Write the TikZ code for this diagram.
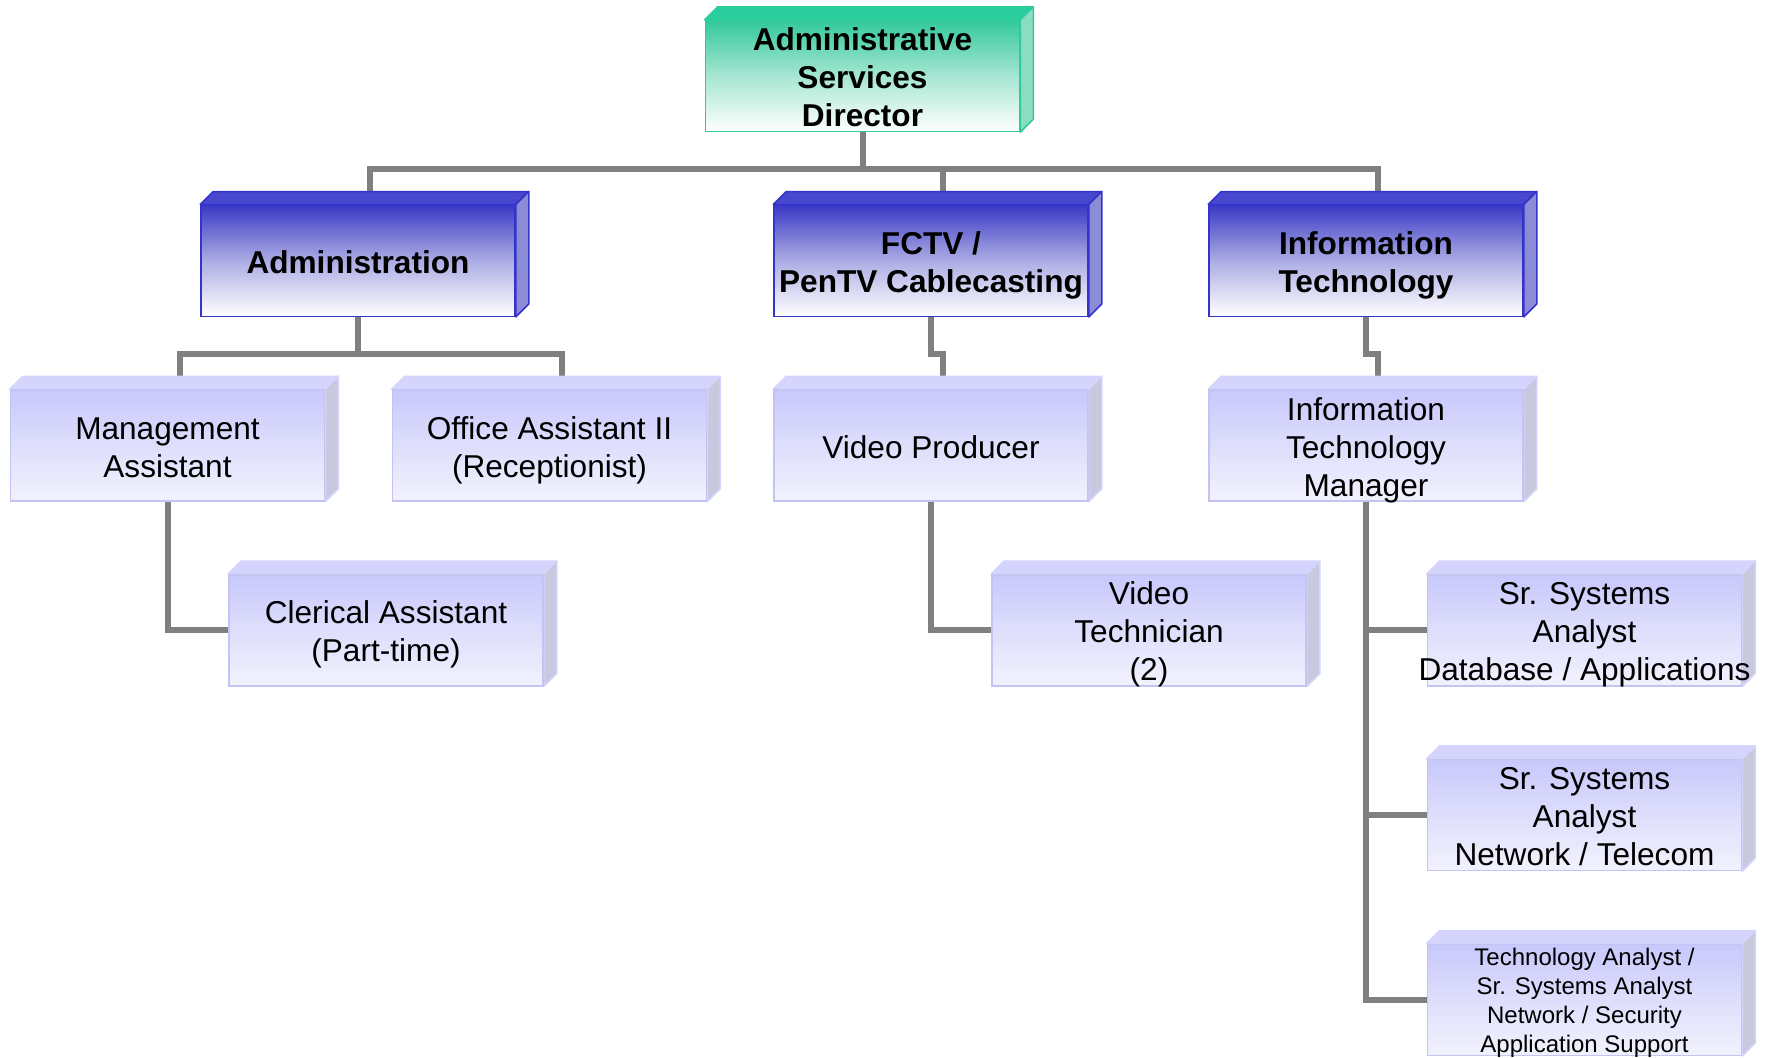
\documentclass[tikz,border=0pt]{standalone}
\usepackage{fontspec}
\setmainfont{Liberation Sans}
\pgfdeclarelayer{bg}
\pgfdeclarelayer{mid}
\pgfsetlayers{bg,mid,main}
\definecolor{grnB}{HTML}{2CCC9C}
\definecolor{grnT}{HTML}{33C99B}
\definecolor{grnM}{HTML}{A6E6D2}
\definecolor{grnTop}{HTML}{2ACE9C}
\definecolor{grnSide}{HTML}{8CDCC2}
\definecolor{bluB}{HTML}{3434CC}
\definecolor{bluT}{HTML}{3A3AC6}
\definecolor{bluM}{HTML}{ACACE4}
\definecolor{bluTop}{HTML}{4848CE}
\definecolor{bluSide}{HTML}{8C8CD6}
\definecolor{litB}{HTML}{C4C4F2}
\definecolor{litT}{HTML}{C8C8FC}
\definecolor{litM}{HTML}{DEDEFC}
\definecolor{litTop}{HTML}{D4D4FC}
\definecolor{litSide}{HTML}{C8C8DE}
\definecolor{connGray}{HTML}{808080}
\newcommand{\St}{\rule{0pt}{16pt}}
\newcommand{\Sb}{\rule[-3.4pt]{0pt}{3.4pt}}
\newcommand{\Ss}{\rule{0pt}{12.2pt}}
\newcommand{\Sd}{\rule[-2.6pt]{0pt}{2.6pt}}
\tikzset{
  base/.style={draw, line width=0.75pt, minimum width=157pt, minimum height=55.5pt,
    inner xsep=0pt, inner ysep=-3pt, align=center},
  topbox/.style={base, font=\fontsize{15.8}{19}\selectfont\bfseries, draw=grnB,
    top color=grnT, bottom color=white, middle color=grnM},
  bluebox/.style={base, font=\fontsize{15.8}{19}\selectfont\bfseries, draw=bluB,
    top color=bluT, bottom color=white, middle color=bluM},
  litebox/.style={base, font=\fontsize{15.8}{19}\selectfont, draw=litB,
    top color=litT, bottom color=white!60!litM, middle color=litM},
  smallbox/.style={litebox, font=\fontsize{12}{14.5}\selectfont},
  conn/.style={line width=3pt, draw=connGray},
}
\newcommand{\boxfaces}[4]{%
  \filldraw[fill=#2, draw=#4, line width=0.75pt, line join=round] (#1.north west) -- ([xshift=6.5pt,yshift=6.5pt]#1.north west)
    -- ([xshift=6.5pt,yshift=6.5pt]#1.north east) -- (#1.north east) -- cycle;
  \filldraw[fill=#3, draw=#4, line width=0.75pt, line join=round] (#1.north east) -- ([xshift=6.5pt,yshift=6.5pt]#1.north east)
    -- ([xshift=6.5pt,yshift=6.5pt]#1.south east) -- (#1.south east) -- cycle;
}
\begin{document}
\begin{tikzpicture}[x=0.5pt,y=-0.5pt]
\useasboundingbox (0,0) rectangle (1769,1057);
% boxes
\node[topbox] (dir) at (862.5,76) {\St Administrative\\Services\\Director\Sb};
\node[bluebox] (adm) at (358,260.75) {\St Administration\Sb};
\node[bluebox] (fctv) at (931,260.75) {\St FCTV /\\PenTV Cablecasting\Sb};
\node[bluebox] (it) at (1366,260.75) {\St Information\\Technology\Sb};
\node[litebox] (mgmt) at (167.5,445.5) {\St Management\\Assistant\Sb};
\node[litebox] (off) at (549.5,445.5) {\St Office Assistant II\\(Receptionist)\Sb};
\node[litebox] (vp) at (931,445.5) {\St Video Producer\Sb};
\node[litebox] (itm) at (1366,445.5) {\St Information\\Technology\\Manager\Sb};
\node[litebox] (cler) at (386,630.25) {\St Clerical Assistant\\(Part-time)\Sb};
\node[litebox] (vt) at (1149,630.25) {\St Video\\Technician\\(2)\Sb};
\node[litebox] (sr1) at (1584.5,630.25) {\St Sr. Systems\\Analyst\\\makebox[150pt][c]{Database / Applications}\Sb};
\node[litebox] (sr2) at (1584.5,815) {\St Sr. Systems\\Analyst\\Network / Telecom\Sb};
\node[smallbox] (ta) at (1584.5,999.75) {\Ss Technology Analyst /\\Sr. Systems Analyst\\Network / Security\\Application Support\Sd};
% 3D faces
\begin{pgfonlayer}{mid}
\boxfaces{dir}{grnTop}{grnSide}{grnB}
\foreach \n in {adm,fctv,it}{\boxfaces{\n}{bluTop}{bluSide}{bluB}}
\foreach \n in {mgmt,off,vp,itm,cler,vt,sr1,sr2,ta}{\boxfaces{\n}{litTop}{litSide}{litTop}}
\end{pgfonlayer}
% connectors
\begin{pgfonlayer}{bg}
\draw[conn] (dir.south) -- ++(0,37) coordinate (tb);
\draw[conn] ([xshift=6pt]adm.north) |- (tb) -| ([xshift=6pt]it.north);
\draw[conn] (tb) -| ([xshift=6pt]fctv.north);
\draw[conn] (adm.south) -- ++(0,37) coordinate (ab);
\draw[conn] ([xshift=6pt]mgmt.north) |- (ab) -| ([xshift=6pt]off.north);
\draw[conn] (fctv.south) -- ++(0,37) -| ([xshift=6pt]vp.north);
\draw[conn] (it.south) -- ++(0,37) -| ([xshift=6pt]itm.north);
\draw[conn] (mgmt.south) |- (cler.west);
\draw[conn] (vp.south) |- (vt.west);
\draw[conn] (itm.south) |- (ta.west);
\draw[conn] (itm.south) |- (sr1.west);
\draw[conn] (itm.south) |- (sr2.west);
\end{pgfonlayer}
\end{tikzpicture}
\end{document}
